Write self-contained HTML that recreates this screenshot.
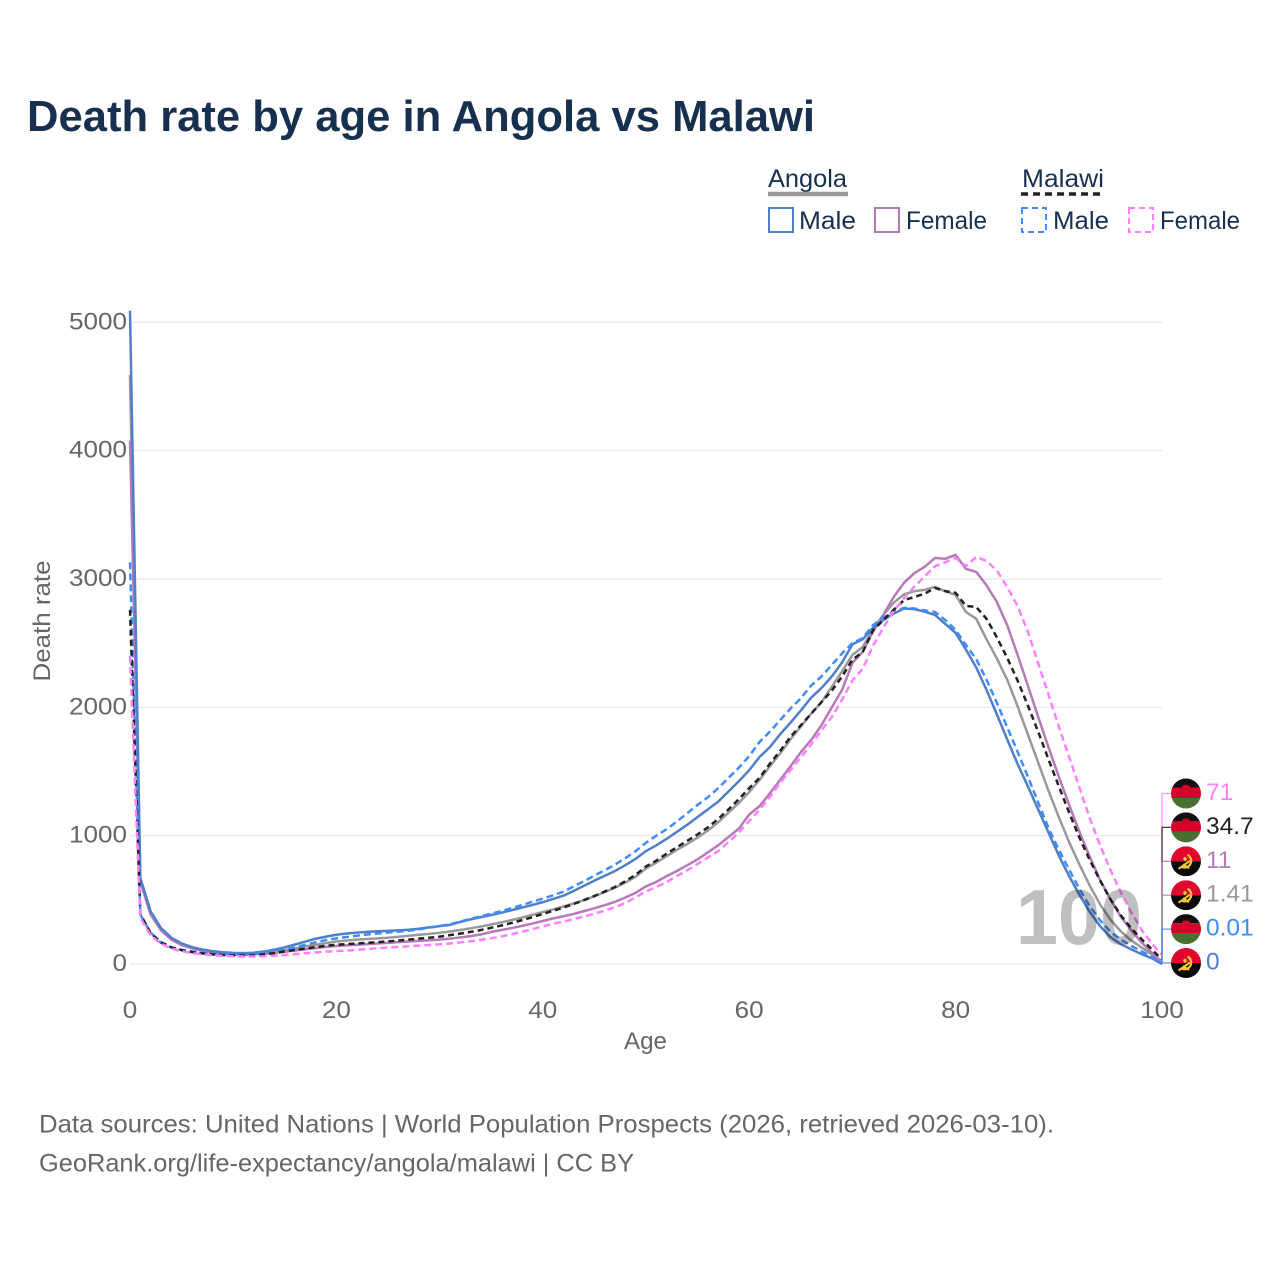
<!DOCTYPE html>
<html lang="en">
<head>
<meta charset="utf-8">
<title>Death rate by age in Angola vs Malawi</title>
<style>
html,body{margin:0;padding:0;background:#fff;width:1280px;height:1280px;overflow:hidden}
svg{display:block;font-family:"Liberation Sans",sans-serif}
</style>
</head>
<body>
<svg id="chart" xmlns="http://www.w3.org/2000/svg" width="1280" height="1280" viewBox="0 0 1280 1280">
<defs>
<clipPath id="flag-clip"><circle cx="0" cy="0" r="15"/></clipPath>
<g id="flag-malawi" clip-path="url(#flag-clip)">
<rect x="-15" y="-15" width="30" height="9" fill="#111"/>
<rect x="-15" y="-6" width="30" height="10.5" fill="#d6002a"/>
<rect x="-15" y="4.5" width="30" height="11" fill="#4a7030"/>
<path d="M-4.5,-6 L-2.5,-8.5 L-1,-8 L0,-10 L1,-8 L2.5,-8.5 L4.5,-6 Z" fill="#d6002a"/>
</g>
<g id="flag-angola" clip-path="url(#flag-clip)">
<rect x="-15" y="-15" width="30" height="15" fill="#e0062d"/>
<rect x="-15" y="0" width="30" height="15" fill="#0a0a0a"/>
<path d="M1.5,-6.5 A6.5,6.5 0 1 1 -4.5,5.5" fill="none" stroke="#f5c92f" stroke-width="2.2"/>
<path d="M-7.5,7.5 L4,-0.5 M-3,3 L3,7" fill="none" stroke="#f5c92f" stroke-width="2"/>
<path d="M-3,-3 L-1,-4.5 L1,-3 L0,-0.5 L-2,-0.5 Z" fill="#f5c92f"/>
</g>
</defs>

<text x="27" y="131" font-size="44" font-weight="700" fill="#17304f" textLength="788" lengthAdjust="spacingAndGlyphs">Death rate by age in Angola vs Malawi</text>

<g id="grid"></g>
<g id="series"></g>
<g id="x-ticks"></g>
<g id="y-ticks"></g>
<g id="end-labels"></g>

<text x="645.5" y="1049" font-size="24" fill="#666" text-anchor="middle" textLength="43" lengthAdjust="spacingAndGlyphs">Age</text>
<text transform="translate(50,621) rotate(-90)" font-size="24" fill="#666" text-anchor="middle" textLength="121" lengthAdjust="spacingAndGlyphs">Death rate</text>

<g font-size="25" fill="#17304f">
<text x="768" y="187" textLength="79" lengthAdjust="spacingAndGlyphs">Angola</text>
<line x1="768" y1="194" x2="848" y2="194" stroke="#999" stroke-width="4.5"/>
<text x="1022" y="187" textLength="82" lengthAdjust="spacingAndGlyphs">Malawi</text>
<line x1="1021" y1="194" x2="1104" y2="194" stroke="#222" stroke-width="3.5" stroke-dasharray="7 5"/>
<rect x="769" y="208" width="24" height="24" fill="none" stroke="#4f7fc9" stroke-width="2"/>
<text x="799" y="229" textLength="57" lengthAdjust="spacingAndGlyphs">Male</text>
<rect x="875" y="208" width="24" height="24" fill="none" stroke="#b67ab8" stroke-width="2"/>
<text x="906" y="229" textLength="81" lengthAdjust="spacingAndGlyphs">Female</text>
<rect x="1022" y="208" width="24" height="24" fill="none" stroke="#3f8cff" stroke-width="2" stroke-dasharray="6 4"/>
<text x="1053" y="229" textLength="56" lengthAdjust="spacingAndGlyphs">Male</text>
<rect x="1129" y="208" width="24" height="24" fill="none" stroke="#ff80ff" stroke-width="2" stroke-dasharray="6 4"/>
<text x="1160" y="229" textLength="80" lengthAdjust="spacingAndGlyphs">Female</text>
</g>

<text x="1079" y="944" font-size="78" font-weight="700" fill="#000" fill-opacity="0.25" text-anchor="middle" textLength="126" lengthAdjust="spacingAndGlyphs">100</text>

<g font-size="25" fill="#666">
<text x="39" y="1132.5" textLength="1015" lengthAdjust="spacingAndGlyphs">Data sources: United Nations | World Population Prospects (2026, retrieved 2026-03-10).</text>
<text x="39" y="1171.5" textLength="595" lengthAdjust="spacingAndGlyphs">GeoRank.org/life-expectancy/angola/malawi | CC BY</text>
</g>
</svg>

<script>
const xTickLabels = [0, 20, 40, 60, 80, 100];
const yTickLabels = [0, 1000, 2000, 3000, 4000, 5000];
const angolaMale = [5090,670,410,280,205,160,132,113,100,92,87,85,88,97,112,130,152,175,197,213,228,238,245,250,255,258,262,267,275,285,295,305,328,348,365,382,400,420,440,460,482,507,532,570,610,650,688,725,770,820,880,925,975,1030,1085,1145,1205,1265,1345,1425,1510,1613,1690,1790,1880,1975,2075,2150,2240,2350,2490,2530,2620,2680,2730,2770,2765,2745,2720,2650,2580,2450,2310,2135,1945,1750,1560,1385,1205,1025,845,685,540,405,295,210,155,115,78,45,0];
const angolaFemale = [4080,640,385,262,190,148,122,103,91,83,78,75,76,80,87,95,105,115,125,133,140,145,150,155,160,165,170,175,180,185,190,198,207,217,230,250,265,280,297,315,335,355,372,390,412,435,458,485,518,555,605,640,685,725,770,815,870,925,990,1055,1165,1230,1330,1434,1540,1650,1745,1860,2000,2136,2346,2432,2590,2720,2860,2970,3045,3095,3164,3157,3188,3079,3055,2950,2821,2640,2410,2170,1925,1690,1460,1240,1030,835,655,505,370,265,170,90,11];
const angolaTotal = [4590,660,400,270,195,150,125,105,93,85,80,78,80,85,95,108,122,137,150,163,175,183,190,195,200,205,212,220,228,235,243,253,265,278,292,308,325,343,362,383,405,425,448,472,498,528,560,595,635,680,745,790,840,890,935,985,1040,1105,1180,1255,1340,1434,1540,1640,1750,1850,1950,2040,2160,2280,2408,2470,2610,2720,2815,2880,2905,2915,2938,2905,2876,2743,2690,2530,2380,2215,2010,1790,1570,1350,1145,950,775,610,465,345,255,185,130,75,1.41];
const malawiMale = [3130,385,245,165,130,110,98,88,80,75,72,72,76,84,97,112,130,150,170,187,200,210,220,230,238,245,252,260,270,283,295,310,330,352,372,392,412,435,460,485,510,535,563,605,645,690,730,775,825,880,945,1000,1050,1110,1175,1240,1300,1370,1450,1530,1620,1730,1810,1900,1990,2070,2170,2240,2330,2420,2500,2540,2640,2700,2745,2775,2770,2755,2743,2680,2603,2486,2375,2215,2035,1845,1655,1460,1260,1060,890,735,585,450,340,252,190,142,100,55,0.01];
const malawiFemale = [2400,360,225,158,120,100,85,75,68,63,60,58,58,60,65,70,77,84,90,96,100,105,110,117,123,128,133,138,143,148,153,160,168,177,188,200,215,232,252,272,292,315,330,350,370,392,415,444,475,520,565,600,639,685,730,780,830,880,950,1025,1115,1200,1300,1411,1510,1610,1710,1820,1925,2060,2210,2300,2480,2620,2750,2850,2940,3020,3100,3130,3164,3100,3172,3140,3065,2938,2790,2590,2345,2100,1850,1615,1375,1135,925,733,560,405,270,160,71];
const malawiTotal = [2760,390,240,170,130,108,93,83,75,70,67,66,68,75,85,98,110,120,132,142,150,155,160,165,170,176,183,190,198,205,213,225,237,250,265,282,300,320,342,365,390,415,440,468,498,530,565,600,645,695,760,805,860,910,960,1010,1065,1130,1205,1285,1370,1450,1560,1660,1770,1860,1950,2040,2130,2240,2370,2432,2600,2680,2760,2835,2860,2885,2930,2905,2892,2790,2782,2690,2545,2385,2210,2015,1810,1595,1385,1180,985,810,650,505,380,280,195,115,34.7];

const NS = 'http://www.w3.org/2000/svg';
function xS(age){ return 130 + age * 10.32; }
function yS(v){ return 964 - v * 0.12834; }
function mk(tag, parent){
  const el = document.createElementNS(NS, tag);
  parent.appendChild(el);
  return el;
}
function linePath(values){
  return values.map(function(v, i){ return (i ? 'L' : 'M') + xS(i).toFixed(2) + ',' + yS(v).toFixed(2); }).join('');
}

const gridGroup = document.getElementById('grid');
const yTickGroup = document.getElementById('y-ticks');
yTickLabels.forEach(function(t){
  const g = mk('line', gridGroup);
  
  
  g.setAttribute('x1', xS(0));
  g.setAttribute('x2', xS(100));
  g.setAttribute('y1', yS(t));
  g.setAttribute('y2', yS(t));
  g.setAttribute('stroke', '#ececec');
  g.setAttribute('stroke-width', '1.5');
  const l = mk('text', yTickGroup);
  
  
  l.setAttribute('x', 127);
  l.setAttribute('y', yS(t) + 7);
  l.setAttribute('font-size', '24');
  l.setAttribute('fill', '#666');
  l.setAttribute('text-anchor', 'end');
  l.setAttribute('textLength', String(t).length * 14.5);
  l.setAttribute('lengthAdjust', 'spacingAndGlyphs');
  l.textContent = t;
});

const xTickGroup = document.getElementById('x-ticks');
xTickLabels.forEach(function(t){
  const l = mk('text', xTickGroup);
  
  
  l.setAttribute('x', xS(t));
  l.setAttribute('y', 1018);
  l.setAttribute('font-size', '24');
  l.setAttribute('fill', '#666');
  l.setAttribute('text-anchor', 'middle');
  l.setAttribute('textLength', String(t).length * 14.5);
  l.setAttribute('lengthAdjust', 'spacingAndGlyphs');
  l.textContent = t;
});

const seriesGroup = document.getElementById('series');
const drawOrder = [
  {values: angolaTotal, color: '#999999', dash: null, name: 'line-angola-total'},
  {values: angolaFemale, color: '#b67ab8', dash: null, name: 'line-angola-female'},
  {values: angolaMale, color: '#4f7fc9', dash: null, name: 'line-angola-male'},
  {values: malawiMale, color: '#3f8cff', dash: '7 4', name: 'line-malawi-male'},
  {values: malawiTotal, color: '#222222', dash: '6 4', name: 'line-malawi-total'},
  {values: malawiFemale, color: '#ff80ff', dash: '7 4', name: 'line-malawi-female'}
];
drawOrder.forEach(function(s){
  const p = mk('path', seriesGroup);
  
  
  p.setAttribute('d', linePath(s.values));
  p.setAttribute('fill', 'none');
  p.setAttribute('stroke', s.color);
  p.setAttribute('stroke-width', '2.5');
  p.setAttribute('stroke-linejoin', 'round');
  if (s.dash) p.setAttribute('stroke-dasharray', s.dash);
});

const endGroup = document.getElementById('end-labels');
const endOrder = [
  {values: malawiFemale, color: '#ff80ff', flag: 'flag-malawi', slot: 5},
  {values: malawiTotal, color: '#222222', flag: 'flag-malawi', slot: 4},
  {values: angolaFemale, color: '#b67ab8', flag: 'flag-angola', slot: 3},
  {values: angolaTotal, color: '#999999', flag: 'flag-angola', slot: 2},
  {values: malawiMale, color: '#3f8cff', flag: 'flag-malawi', slot: 1},
  {values: angolaMale, color: '#4f7fc9', flag: 'flag-angola', slot: 0}
];
endOrder.forEach(function(e){
  const last = e.values[e.values.length - 1];
  const ly = 963 - e.slot * 33.9;
  const c = mk('path', endGroup);
  
  
  c.setAttribute('d', 'M' + xS(100) + ',' + yS(last).toFixed(2) + 'V' + ly.toFixed(2) + 'H1172');
  c.setAttribute('fill', 'none');
  c.setAttribute('stroke', e.color);
  c.setAttribute('stroke-width', '1.3');
  c.setAttribute('stroke-opacity', '0.85');
});
endOrder.forEach(function(e){
  const last = e.values[e.values.length - 1];
  const ly = 963 - e.slot * 33.9;
  const f = mk('use', endGroup);
  
  
  f.setAttribute('href', '#' + e.flag);
  f.setAttribute('transform', 'translate(1186,' + ly.toFixed(2) + ')');
  const t = mk('text', endGroup);
  
  
  t.setAttribute('x', 1206);
  t.setAttribute('y', ly + 6.5);
  t.setAttribute('font-size', '24.5');
  t.setAttribute('fill', e.color);
  t.textContent = String(last);
});
</script>
</body>
</html>
